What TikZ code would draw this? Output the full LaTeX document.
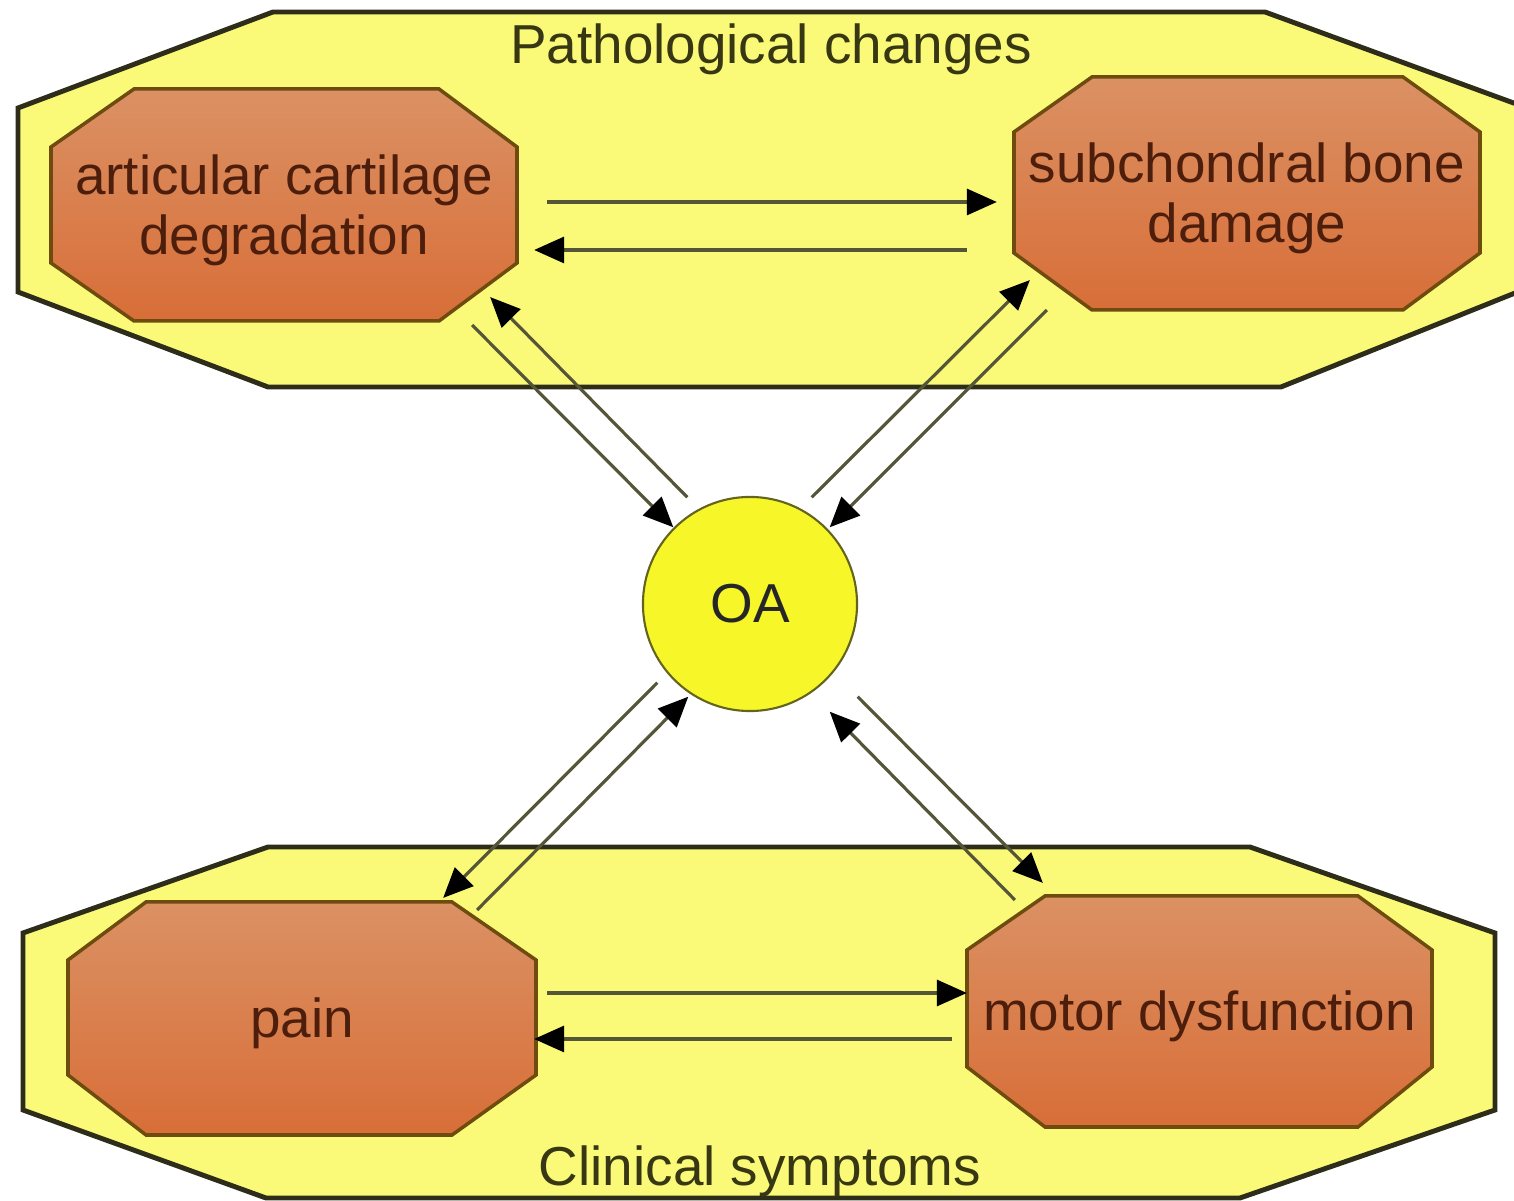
\documentclass[tikz,border=0pt]{standalone}
\usepackage{fontspec}
\setmainfont{Liberation Sans}
\usetikzlibrary{arrows.meta}

\definecolor{frameyel}{RGB}{250,250,120}
\definecolor{frameline}{RGB}{45,45,25}
\definecolor{titletext}{RGB}{55,55,20}
\definecolor{octotop}{RGB}{219,145,100}
\definecolor{octobot}{RGB}{216,110,56}
\definecolor{octoline}{RGB}{110,75,15}
\definecolor{octotext}{RGB}{78,30,12}
\definecolor{oayel}{RGB}{246,246,40}
\definecolor{oaline}{RGB}{100,100,30}
\definecolor{connline}{RGB}{85,85,55}

\begin{document}
\begin{tikzpicture}[x=0.01cm, y=-0.01cm, >={Triangle[length=0.3cm, width=0.26cm, color=black]},
  frame/.style={draw=frameline, fill=frameyel, line width=1.4pt},
  octo/.style={draw=octoline, line width=1pt, top color=octotop, bottom color=octobot},
  lbl/.style={inner sep=0pt, outer sep=0pt, align=center, text=octotext, font=\fontsize{15.6}{17}\selectfont},
  conn/.style={->, draw=connline, line width=0.9pt}]

\clip (0,0) rectangle (1514,1201);

% Pathological changes
\draw[frame] (273,12) -- (1265,12) -- (1530,109) -- (1530,287) -- (1281,387) -- (268,387) -- (18,292) -- (18,108) -- cycle;
\node[lbl, text=titletext] (pathtitle) at (771,49) {Pathological changes};

% Clinical symptoms
\draw[frame] (268,847) -- (1250,847) -- (1495,933) -- (1495,1110) -- (1240,1198) -- (266,1198) -- (23,1110) -- (23,933) -- cycle;
\node[lbl, text=titletext] (clintitle) at (760,1171) {Clinical symptoms};

% articular cartilage
\draw[octo] (134,89) -- (439,89) -- (517,147) -- (517,263) -- (439,321) -- (134,321) -- (51,263) -- (51,147) -- cycle;
\node[lbl, minimum width=4.66cm, minimum height=2.32cm] (cart) at (284,210) {articular cartilage\\degradation};

% subchondral bone
\draw[octo] (1092,77) -- (1403,77) -- (1480,132) -- (1480,253) -- (1403,310) -- (1092,310) -- (1014,253) -- (1014,132) -- cycle;
\node[lbl, minimum width=4.66cm, minimum height=2.33cm] (bone) at (1247,198.5) {subchondral bone\\damage};

% pain
\draw[octo] (146,902) -- (452,902) -- (536,960) -- (536,1075) -- (452,1135) -- (146,1135) -- (68,1075) -- (68,960) -- cycle;
\node[lbl, minimum width=4.68cm, minimum height=2.33cm] (pain) at (302,1023.5) {pain};

% motor dysfunction
\draw[octo] (1045,896) -- (1358,896) -- (1432,950) -- (1432,1067) -- (1358,1127) -- (1045,1127) -- (967,1067) -- (967,950) -- cycle;
\node[lbl, minimum width=4.65cm, minimum height=2.31cm] (motor) at (1199.5,1016) {motor dysfunction};

% OA
\node[circle, draw=oaline, line width=0.6pt, fill=oayel, minimum size=2.14cm, inner sep=0pt, outer sep=0pt,
  font=\fontsize{15.6}{17}\selectfont, text=black!85] (oa) at (750,604) {OA};

% cartilage <-> bone
\draw[conn] ([shift={(30,-8)}]cart.east) -- ([shift={(-17,3.5)}]bone.west);
\draw[conn] ([shift={(-47,51.5)}]bone.west) -- ([shift={(17,40)}]cart.east);

% pain <-> motor
\draw[conn] ([shift={(11,-30.5)}]pain.east) -- ([shift={(0,-23)}]motor.west);
\draw[conn] ([shift={(-15,23)}]motor.west) -- ([shift={(-2,15.5)}]pain.east);

% cartilage <-> OA
\draw[conn] ([shift={(-45,-1)}]cart.south east) -- ([shift={(-1,-1)}]oa.north west);
\draw[conn] ([shift={(13,-31)}]oa.north west) -- ([shift={(-27,-29)}]cart.south east);

% bone <-> OA
\draw[conn] ([shift={(-14,-31)}]oa.north east) -- ([shift={(16,-35)}]bone.south west);
\draw[conn] ([shift={(33,-5)}]bone.south west) -- ([shift={(4,-1)}]oa.north east);

% pain <-> OA
\draw[conn] ([shift={(-59,3)}]pain.north east) -- ([shift={(14,17)}]oa.south west);
\draw[conn] ([shift={(-17,3)}]oa.south west) -- ([shift={(-93,-9)}]pain.north east);

% motor <-> OA
\draw[conn] ([shift={(48,-0.5)}]motor.north west) -- ([shift={(4,32)}]oa.south east);
\draw[conn] ([shift={(32,17)}]oa.south east) -- ([shift={(76,-17.5)}]motor.north west);

\end{tikzpicture}
\end{document}
